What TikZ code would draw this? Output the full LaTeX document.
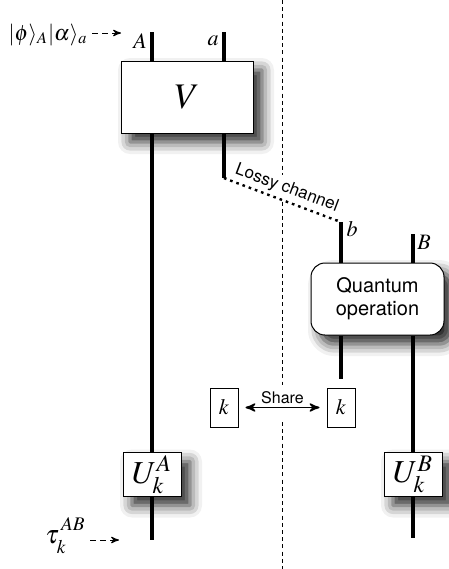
\documentclass[tikz,border=0pt]{standalone}
\usepackage{mathptmx}
\usepackage{fontspec}
\setsansfont{TeX Gyre Heros}
\usepackage{tikz}
\usetikzlibrary{positioning,calc,arrows,shadows.blur}

\begin{document}
\begin{tikzpicture}[x=0.5pt,y=-0.5pt,
  wire/.style={line width=1.6pt},
  gate/.style={draw,fill=white,line width=0.5pt,inner sep=0pt,
    blur shadow={shadow xshift=4.5pt,shadow yshift=-4.5pt,shadow blur radius=6pt,shadow opacity=85}},
  opbox/.style={gate,rounded corners=7pt,align=center,minimum width=66.5pt,minimum height=36pt,
    font=\sffamily\fontsize{10}{11.5}\selectfont},
  keybox/.style={draw,fill=white,line width=0.5pt,minimum width=14pt,minimum height=19.5pt,inner sep=0pt,
    font=\fontsize{11}{11}\selectfont},
  ubox/.style={gate,minimum width=29pt,minimum height=22pt,font=\fontsize{16}{16}\selectfont},
  lbl/.style={inner sep=0pt,font=\fontsize{11}{11}\selectfont},
  lossy/.style={line width=1.3pt,dotted},
  divider/.style={line width=0.5pt,dashed,dash pattern=on 2pt off 1.6pt},
  feed/.style={densely dashed,line width=0.5pt,-stealth'},
  share/.style={line width=0.8pt,stealth'-stealth',shorten <=3.5pt,shorten >=3.5pt}]
\useasboundingbox (0,0) rectangle (449,569);

\coordinate (divtop) at (282,0);
\coordinate (divmid1) at (282,385);
\coordinate (divmid2) at (282,422);
\coordinate (divbot) at (282,569);
\draw[divider] (divtop) -- (divmid1);
\draw[divider] (divmid2) -- (divbot);

\node[gate,minimum width=66pt,minimum height=36pt,font=\fontsize{18}{18}\selectfont] (V) at (187,97) {$V$};
\node[opbox] (Q) at (377.5,299) {Quantum\\operation};
\node[keybox] (kA) at (224,407.5) {$k$};
\node[keybox] (kB) at (341,407.5) {$k$};
\node[ubox] (UA) at (152,474.5) {$U_k^A$};
\node[ubox] (UB) at (413,474.5) {$U_k^B$};

\coordinate (Ain) at (152,32);
\coordinate (Aout) at (152,540);
\coordinate (ain) at (224,32);
\coordinate (aend) at (224,178);
\coordinate (bstart) at (341,222);
\coordinate (bend) at (341,379);
\coordinate (Bin) at (413,234);
\coordinate (Bout) at (413,538);

\draw[wire] (Ain) -- (Ain |- V.north);
\draw[wire] (Ain |- V.south) -- (UA.north);
\draw[wire] (UA.south) -- (Aout);
\draw[wire] (ain) -- (ain |- V.north);
\draw[wire] (ain |- V.south) -- (aend);
\draw[lossy] (aend) -- node[sloped,above,inner sep=1.5pt,fill=white,font=\sffamily\fontsize{8.5}{9}\selectfont] (lossylbl) {Lossy channel} (bstart);
\draw[wire] (bstart) -- (bstart |- Q.north);
\draw[wire] (bstart |- Q.south) -- (bend);
\draw[wire] (Bin) -- (Bin |- Q.north);
\draw[wire] (Bin |- Q.south) -- (UB.north);
\draw[wire] (UB.south) -- (Bout);

\draw[share] (kA) -- node[above,inner sep=1.5pt,font=\sffamily\fontsize{8}{9}\selectfont] (sharelbl) {Share} (kB);

\node[lbl] (Alabel) at (140,41) {$A$};
\node[lbl] (alabel) at (213,41) {$a$};
\node[lbl] (blabel) at (352,229) {$b$};
\node[lbl] (Blabel) at (424,242) {$B$};

\node[lbl,anchor=east] (inA) at (88,35) {$|\phi\rangle_A|\alpha\rangle_a$};
\coordinate (inarrow) at (121,33);
\draw[feed] (inA.east |- inarrow) ++(4,0) -- (inarrow);
\node[lbl,anchor=east,font=\fontsize{13}{13}\selectfont] (tau) at (86,536) {$\tau_{\lower2pt\hbox{$\scriptstyle k$}}^{\,\raise1.5pt\hbox{$\scriptstyle AB$}}$};
\coordinate (tauarrow) at (119,540);
\draw[feed] (tau.east |- tauarrow) ++(4,0) -- (tauarrow);
\end{tikzpicture}
\end{document}
